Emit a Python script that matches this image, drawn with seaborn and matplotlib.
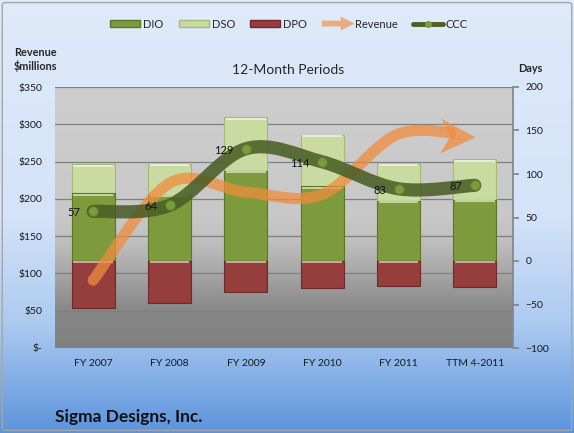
import numpy as np
import pandas as pd
import matplotlib
matplotlib.use("Agg")
import matplotlib.pyplot as plt
import matplotlib.patches as mpatches
from matplotlib.path import Path
from matplotlib.lines import Line2D
from matplotlib.markers import MarkerStyle
from matplotlib.transforms import Affine2D
from matplotlib.legend_handler import HandlerPatch
from matplotlib.colors import to_rgb
import seaborn as sns

# data
periods = ["FY 2007", "FY 2008", "FY 2009", "FY 2010", "FY 2011", "TTM 4-2011"]
dio = [78, 76, 104, 86, 69, 70]
dso = [33, 36, 61, 59, 43, 47]
dpo = [54, 48, 36, 31, 29, 30]
ccc = [57, 64, 129, 114, 83, 87]
revenue = [91, 221, 209, 206, 287, 283]

rev_ticks = [0, 50, 100, 150, 200, 250, 300, 350]
rev_tick_labels = ["$-", "$50", "$100", "$150", "$200", "$250", "$300", "$350"]
day_ticks = [-100, -50, 0, 50, 100, 150, 200]

df = pd.DataFrame({"Period": periods, "DIO": dio, "DSO": dso, "DPO": dpo,
                   "CCC": ccc, "Revenue": revenue})
df["DIO+DSO"] = df["DIO"] + df["DSO"]
df["DPO_neg"] = -df["DPO"]

dio_c = "#7d9b3c"
dso_c = "#c9dba1"
dpo_c = "#963e3e"
rev_c = (0.94, 0.55, 0.24)
ccc_c = "#4a5e26"

sns.set_theme(style="white")
plt.rcParams["font.family"] = ["Lato", "DejaVu Sans"]

W, H = 574, 433
fig = plt.figure(figsize=(W / 100, H / 100), dpi=100)

# figure background gradient
bg = fig.add_axes([0, 0, 1, 1], zorder=-10)
f = np.linspace(0, 1, 200)
stops = [0, 0.5, 0.75, 1.0]
r = np.interp(f, stops, [223, 212, 172, 92])
g = np.interp(f, stops, [234, 227, 202, 148])
b = np.interp(f, stops, [250, 249, 240, 220])
grad = np.stack([r, g, b], axis=-1)[:, None, :].repeat(2, axis=1) / 255
bg.imshow(grad, aspect="auto", extent=[0, 1, 0, 1])
bg.set_xlim(0, 1)
bg.set_ylim(0, 1)
bg.axis("off")
bg.add_patch(mpatches.FancyBboxPatch((0.004, 0.006), 0.992, 0.988,
                                     boxstyle="round,pad=0,rounding_size=0.006",
                                     fill=False, edgecolor="#a6a6a6", lw=1.0,
                                     transform=bg.transAxes))

# plot area
left, right, top, bottom = 55, 513, 87, 348
ax = fig.add_axes([left / W, 1 - bottom / H, (right - left) / W, (bottom - top) / H])
pf = np.linspace(0, 1, 200)
gray = np.interp(pf, [0, 0.5, 0.6, 0.72, 0.86, 1.0], [206, 200, 190, 165, 135, 128]) / 255
ax.imshow(np.stack([gray, gray, gray], axis=-1)[:, None, :].repeat(2, axis=1),
          aspect="auto", extent=[0, 1, 0, 1], transform=ax.transAxes, zorder=-1)
ax.set_xlim(-0.5, 5.5)
ax.set_ylim(0, 350)
ax.set_yticks(rev_ticks, rev_tick_labels)
ax.yaxis.grid(True, color="#7f7f7f", lw=0.9)
ax.set_axisbelow(True)
for s in ax.spines.values():
    s.set_visible(False)
ax.tick_params(axis="y", length=0, pad=9, labelsize=7.5, labelcolor="#1a1a1a")
ax.tick_params(axis="x", length=0, pad=8, labelsize=7.5, labelcolor="#1a1a1a")

# bars on the days axis
ax_days = ax.twinx()
bar_kw = dict(width=0.56, saturation=1, errorbar=None, linewidth=0.8, ax=ax_days)
sns.barplot(data=df, x="Period", y="DIO+DSO", color=dso_c, edgecolor="#a3b97a", **bar_kw)
sns.barplot(data=df, x="Period", y="DIO", color=dio_c, edgecolor="#5c7628", **bar_kw)
sns.barplot(data=df, x="Period", y="DPO_neg", color=dpo_c, edgecolor="#6e2a2a", **bar_kw)
ax_days.set_ylim(-100, 200)
ax_days.set_yticks(day_ticks)
ax_days.set_xlabel("")
ax_days.set_ylabel("")
for name, s in ax_days.spines.items():
    s.set_visible(name == "right")
ax_days.spines["right"].set_color("#868686")
ax_days.tick_params(axis="y", direction="out", length=4, color="#868686",
                    pad=5, labelsize=7.5, labelcolor="#1a1a1a", right=True)

# bevel highlight along the top of each bar segment
for p in list(ax_days.patches):
    seg_top = max(p.get_y(), p.get_y() + p.get_height())
    light = 0.45 * np.array(to_rgb(p.get_facecolor())) + 0.55
    ax_days.plot([p.get_x() + 0.02, p.get_x() + p.get_width() - 0.02],
                 [seg_top - 1.6, seg_top - 1.6], color=light, lw=1.4,
                 solid_capstyle="butt")

ax.set_xlim(-0.5, 5.5)
ax.set_xticks(range(len(periods)), periods)


def smooth_verts(xs, ys):
    # Bezier control points like Excel's smoothed line
    pts = np.column_stack([xs, ys]).astype(float)
    pad = np.vstack([pts[0], pts, pts[-1]])
    verts, codes = [pts[0]], [Path.MOVETO]
    for i in range(len(pts) - 1):
        p0, p1, p2, p3 = pad[i], pad[i + 1], pad[i + 2], pad[i + 3]
        verts += [p1 + (p2 - p0) / 6, p2 - (p3 - p1) / 6, p2]
        codes += [Path.CURVE4] * 3
    return verts, codes


def split_bezier(p0, c1, c2, p1, t):
    a = p0 + (c1 - p0) * t
    bb = c1 + (c2 - c1) * t
    c = c2 + (p1 - c2) * t
    d = a + (bb - a) * t
    e = bb + (c - bb) * t
    return [a, d, d + (e - d) * t]


# revenue arrow
ax_rev = ax.twinx()
ax_rev.set_ylim(0, 350)
ax_rev.axis("off")
xs = np.arange(len(periods))
verts, codes = smooth_verts(xs, df["Revenue"])
p_start, c1, c2, p_end = [np.asarray(v) for v in verts[-4:]]
d_end = ax_rev.transData.transform([p_end, c2])
d_beg = ax_rev.transData.transform([p_start])[0]
seg_len = np.hypot(*(d_end[0] - d_beg))
verts = verts[:-3] + split_bezier(p_start, c1, c2, p_end, 1 - 30 / seg_len)
ax_rev.add_patch(mpatches.PathPatch(Path(verts, codes), fill=False, edgecolor=rev_c,
                                    lw=8, alpha=0.75, capstyle="round"))
dx, dy = d_end[0] - d_end[1]
angle = np.degrees(np.arctan2(dy, dx))
head = Path([(0, 0), (-1, 0.5), (-0.72, 0), (-1, -0.5), (0, 0)],
            [Path.MOVETO, Path.LINETO, Path.LINETO, Path.LINETO, Path.CLOSEPOLY])
ax_rev.plot([xs[-1]], [df["Revenue"].iloc[-1]], linestyle="none",
            marker=MarkerStyle(head, transform=Affine2D().rotate_deg(angle)),
            markersize=50, color=rev_c, alpha=0.75, mew=0)

# cash conversion cycle line
ax_ccc = ax.twinx()
ax_ccc.set_ylim(-100, 200)
ax_ccc.axis("off")
cv, cc = smooth_verts(xs, df["CCC"])
ax_ccc.add_patch(mpatches.PathPatch(Path(cv, cc), fill=False, edgecolor=ccc_c,
                                    lw=9.5, alpha=0.88, capstyle="round"))
ax_ccc.plot(xs, df["CCC"], linestyle="none", marker="o", markersize=7,
            markerfacecolor="#7c9c3c", markeredgecolor="#5f7a2c", mew=0.6)
for x, v in zip(xs, df["CCC"]):
    ax_ccc.annotate(str(v), (x, v), xytext=(-9, -1), textcoords="offset points",
                    ha="right", va="center", fontsize=8, color="#111111")

# legend
def make_arrow(legend, orig_handle, xdescent, ydescent, width, height, fontsize):
    return mpatches.FancyArrow(-xdescent, height / 2 - ydescent, width + 2, 0,
                               width=4.2, head_width=10, head_length=10,
                               length_includes_head=True)


rev_handle = mpatches.Patch(facecolor=rev_c, edgecolor="none", alpha=0.65, label="Revenue")
handles = [mpatches.Patch(facecolor=dio_c, edgecolor="#5c7628", label="DIO"),
           mpatches.Patch(facecolor=dso_c, edgecolor="#a3b97a", label="DSO"),
           mpatches.Patch(facecolor=dpo_c, edgecolor="#6e2a2a", label="DPO"),
           rev_handle,
           Line2D([], [], color=ccc_c, lw=3.5, marker="o", markersize=4,
                  markerfacecolor="#7c9c3c", markeredgecolor="#7c9c3c", label="CCC")]
fig.legend(handles=handles, loc="center", bbox_to_anchor=(289 / W, 1 - 24 / H),
           ncol=5, frameon=False, fontsize=8, handlelength=2.7, handleheight=0.55,
           handletextpad=0.27, columnspacing=1.35,
           handler_map={rev_handle: HandlerPatch(patch_func=make_arrow)})

fig.text(288 / W, 1 - 70 / H, "12-Month Periods", ha="center", va="center", fontsize=10)
fig.text(35 / W, 1 - 52 / H, "Revenue", ha="center", va="center", fontsize=7.8, fontweight="bold")
fig.text(35 / W, 1 - 66 / H, "$millions", ha="center", va="center", fontsize=7.8, fontweight="bold")
fig.text(530 / W, 1 - 68 / H, "Days", ha="center", va="center", fontsize=7.8, fontweight="bold")
fig.text(55 / W, 1 - 417 / H, "Sigma Designs, Inc.", ha="left", va="center",
         fontsize=12.5, fontweight="bold", color="#111111")

fig.savefig("out.png", dpi=100)
